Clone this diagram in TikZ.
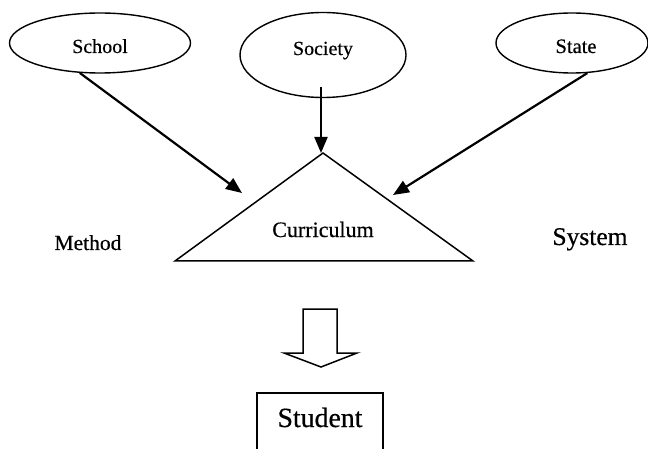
\documentclass[tikz,border=0pt]{standalone}
\usepackage{fontspec}
\setmainfont{Liberation Serif}
\newfontfamily\diagfont[FakeBold=0.5]{Liberation Serif}
\usetikzlibrary{shapes.geometric,arrows.meta}
\begin{document}
\begin{tikzpicture}[x=1pt,y=-1pt,
  oval/.style={ellipse,draw,line width=1.4pt,inner sep=0pt},
  lbl/.style={inner sep=0pt,anchor=base},
  conn/.style={line width=2.2pt,-{Triangle[length=16pt,width=13pt]}},
  shapeline/.style={line width=1.5pt,line join=miter}]
\clip (0,0) rectangle (648,449);
% ellipses
\node[oval,minimum width=181pt,minimum height=60pt] (school) at (100,43) {};
\node[oval,minimum width=166pt,minimum height=85pt] (society) at (323,55) {};
\node[oval,minimum width=152pt,minimum height=60pt] (state) at (572,43) {};
\node[lbl,font=\diagfont\fontsize{20}{22}\selectfont] (schooltxt) at (100,53) {School};
\node[lbl,font=\diagfont\fontsize{20}{22}\selectfont] (societytxt) at (323,55) {Society};
\node[lbl,font=\diagfont\fontsize{20.5}{22}\selectfont] (statetxt) at (576,53) {State};
% triangle
\coordinate (apex) at (323,153);
\coordinate (baseL) at (175,261);
\coordinate (baseR) at (473,261);
\draw[shapeline] (apex) -- (baseR) -- (baseL) -- cycle;
\node[lbl,font=\diagfont\fontsize{22}{24}\selectfont] (curr) at (323,237) {Curriculum};
% side labels
\node[lbl,font=\diagfont\fontsize{21.5}{24}\selectfont] (method) at (88,250) {Method};
\node[lbl,font=\diagfont\fontsize{25.5}{28}\selectfont] (system) at (590,245) {System};
% connectors
\coordinate (schooltip) at (242,193);
\coordinate (statetip) at (393,195);
\coordinate (socstart) at (321,87);
\coordinate (soctip) at (321,153);
\draw[conn] (school.236) -- (schooltip);
\draw[conn] (state.297) -- (statetip);
\draw[conn] (socstart) -- (soctip);
% block arrow
\draw[shapeline] (303,309) -- (337,309) -- (337,353) -- (357,353) -- (321,367)
  -- (284,353) -- (303,353) -- cycle;
% student box
\draw[shapeline] (257,460) -- (257,393) -- (383,393) -- (383,460);
\node[lbl,font=\diagfont\fontsize{27.8}{30}\selectfont] (student) at (320,427) {Student};
\end{tikzpicture}
\end{document}
